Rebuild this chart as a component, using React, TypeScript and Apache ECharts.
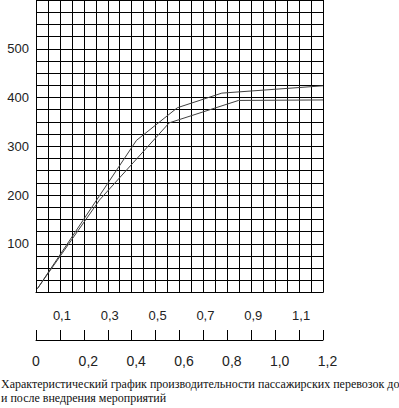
import React, { useEffect, useRef } from "react";
import * as echarts from "echarts";

const upperLine: [number, number][] = [
  [0.006, 8], [0.42, 312], [0.591, 379], [0.777, 409], [1.2, 424],
];
const lowerLine: [number, number][] = [
  [0.006, 8], [0.266, 190], [0.557, 348], [0.847, 394], [1.2, 395],
];
const yLabels = [100, 200, 300, 400, 500];
const evenTicks = [0, 0.2, 0.4, 0.6, 0.8, 1.0, 1.2];
const oddTicks = [0.1, 0.3, 0.5, 0.7, 0.9, 1.1];
const caption =
  "Характеристический график производительности пассажирских перевозок до\nи после внедрения мероприятий";

const fmt = (v: number) => (v === 0 ? "0" : v.toFixed(1).replace(".", ","));
const near = (v: number, arr: number[]) => arr.find((a) => Math.abs(a - v) < 1e-6);

export default function App() {
  const ref = useRef<HTMLDivElement>(null);
  useEffect(() => {
    if (!ref.current) return;
    const chart = echarts.init(ref.current, null, { renderer: "svg" });
    const font = "Arial, 'Liberation Sans', sans-serif";
    chart.setOption({
      animation: false,
      backgroundColor: "#fff",
      grid: { left: 36, right: 76, top: 0, bottom: 115.5, containLabel: false },
      xAxis: [
        {
          type: "value", min: 0, max: 1.2, interval: 0.05,
          axisLine: { show: true, lineStyle: { color: "#000", width: 1 } },
          axisTick: { show: false },
          axisLabel: { show: false },
          splitLine: { show: true, lineStyle: { color: "#000", width: 1 } },
        },
        {
          type: "value", min: 0, max: 1.2, interval: 0.1, position: "bottom", offset: 47.5,
          axisLine: { show: true, onZero: false, lineStyle: { color: "#000", width: 1 } },
          axisTick: { show: true, inside: true, length: 10, lineStyle: { color: "#000", width: 1 } },
          axisLabel: {
            show: true, margin: 14, color: "#222", fontFamily: font, fontSize: 14,
            formatter: (v: number) => {
              const e = near(v, evenTicks);
              if (e === undefined) return "";
              return e === 0 ? "{a|0}" : "{b|" + fmt(e) + "}";
            },
            rich: {
              a: { fontFamily: font, fontSize: 14, color: "#222" },
              b: { fontFamily: font, fontSize: 14, color: "#222", padding: [0, 0, 0, 9] },
            },
          },
          splitLine: { show: false },
        },
        {
          type: "value", min: 0, max: 1.2, interval: 0.1, position: "bottom", offset: 47.5,
          axisLine: { show: false, onZero: false },
          axisTick: { show: false },
          axisLabel: {
            show: true, inside: true, margin: 18, color: "#222", fontFamily: font, fontSize: 13,
            formatter: (v: number) => {
              const o = near(v, oddTicks);
              return o === undefined ? "" : "{b|" + fmt(o) + "}";
            },
            rich: {
              b: { fontFamily: font, fontSize: 13, color: "#222", padding: [0, 0, 0, 4] },
            },
          },
          splitLine: { show: false },
        },
      ],
      yAxis: {
        type: "value", min: 0, max: 600, interval: 25,
        axisLine: { show: true, lineStyle: { color: "#000", width: 1 } },
        axisTick: { show: false },
        axisLabel: {
          show: true, margin: 7, color: "#222", fontFamily: font, fontSize: 13,
          formatter: (v: number) => (yLabels.includes(Math.round(v)) ? String(Math.round(v)) : ""),
        },
        splitLine: { show: true, lineStyle: { color: "#000", width: 1 } },
      },
      series: [
        {
          type: "line", xAxisIndex: 0, data: upperLine, symbol: "none",
          lineStyle: { color: "#404040", width: 1 },
        },
        {
          type: "line", xAxisIndex: 0, data: lowerLine, symbol: "none",
          lineStyle: { color: "#404040", width: 1 },
        },
      ],
      graphic: [
        {
          type: "text", left: 1, top: 377,
          style: {
            text: caption, fill: "#111",
            fontFamily: "Liberation Serif",
            fontSize: 12,
            lineHeight: 14,
          },
        },
      ],
    });
    return () => chart.dispose();
  }, []);
  return (
    <div
      ref={ref}
      style={{ position: "absolute", left: 0, top: 0, width: 399, height: 408 }}
    />
  );
}
